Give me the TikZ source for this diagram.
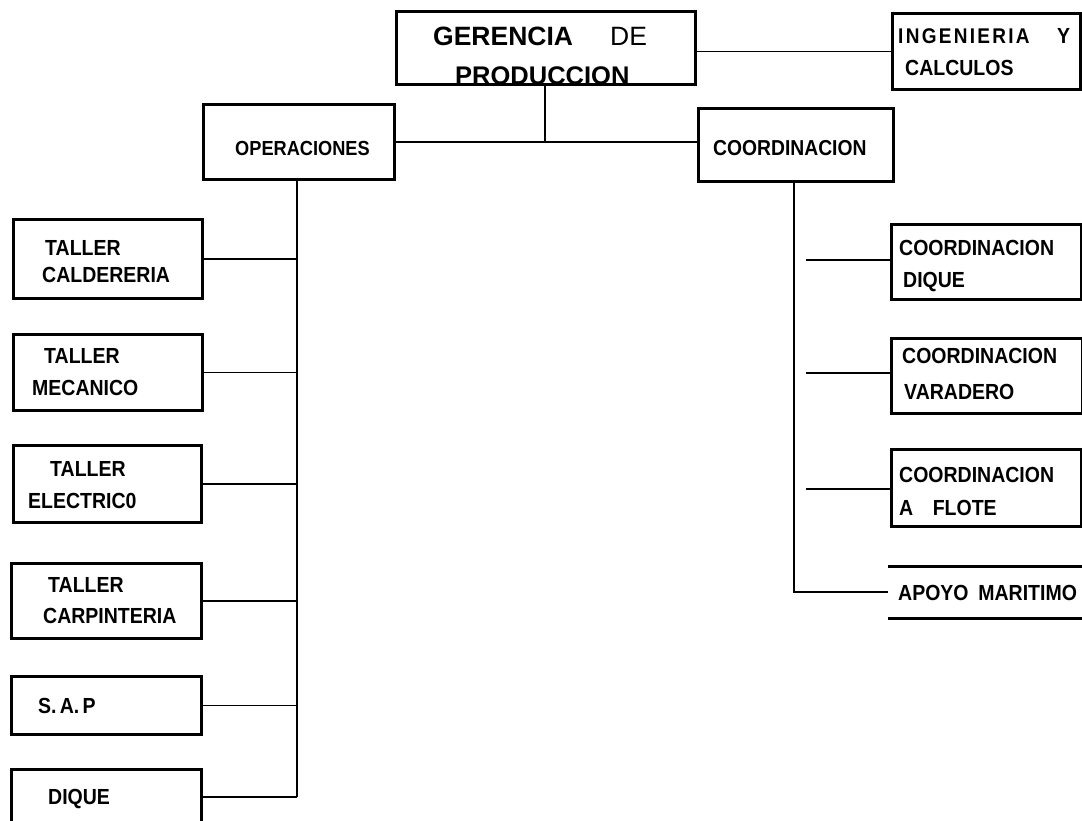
\documentclass[tikz,border=0pt]{standalone}
\usepackage{fontspec}
\setmainfont{Liberation Sans}
\newfontfamily\spfont[LetterSpace=12]{Liberation Sans}
\newcommand{\tallt}[1]{\scalebox{1}[1.12]{#1}}
\begin{document}
\begin{tikzpicture}[x=1pt,y=-1pt,
  box/.style={draw,line width=3pt,rectangle,inner sep=0pt,anchor=north west},
  conn/.style={line width=1.8pt},
  txt/.style={anchor=base west,inner sep=0pt,font=\fontsize{19.5}{21}\selectfont\bfseries},
  big/.style={anchor=base west,inner sep=0pt,font=\fontsize{26.5}{28}\selectfont}]
\useasboundingbox (0,0) rectangle (1082,820);
% boxes
\node[box,minimum width=299pt,minimum height=73pt] (ger) at (395,10) {};
\node[box,minimum width=188pt,minimum height=76pt] (ing) at (891,12) {};
\node[box,minimum width=191pt,minimum height=75pt] (ope) at (202,103) {};
\node[box,minimum width=195pt,minimum height=73pt] (coo) at (697,107) {};
\node[box,minimum width=189pt,minimum height=79pt] (cal) at (12,218) {};
\node[box,minimum width=189pt,minimum height=76pt] (mec) at (12,333) {};
\node[box,minimum width=188pt,minimum height=77pt] (ele) at (12,444) {};
\node[box,minimum width=190pt,minimum height=75pt] (car) at (10,562) {};
\node[box,minimum width=190pt,minimum height=58pt] (sap) at (10,675) {};
\node[box,minimum width=190pt,minimum height=70pt] (diq) at (10,768) {};
\node[box,minimum width=190pt,minimum height=75pt] (cdq) at (890,223) {};
\node[box,minimum width=191pt,minimum height=75pt] (cva) at (890,337) {};
\node[box,minimum width=190pt,minimum height=77pt] (cfl) at (890,448) {};
\node[rectangle,inner sep=0pt,minimum width=196pt,minimum height=52pt,anchor=north west] (apo) at (888,566) {};
\draw[line width=3pt] (apo.north west) -- (apo.north east);
\draw[line width=3pt] (apo.south west) -- (apo.south east);
% texts
\node[big,font=\fontsize{26.5}{28}\selectfont\bfseries] (t1) at (433,45) {GERENCIA};
\node[big] (t2) at (610,45) {DE};
\node[big,font=\fontsize{25.5}{28}\selectfont\bfseries] (t3) at (455,84) {PRODUCCION};
\node[txt,font=\fontsize{19}{21}\selectfont\bfseries\spfont] (t4) at (898,43) {\tallt{INGENIERIA}};
\node[txt] (t5) at (1057,43) {\tallt{Y}};
\node[txt] (t6) at (905,75) {\tallt{CALCULOS}};
\node[txt,font=\fontsize{18.2}{20}\selectfont\bfseries] (t7) at (235,155) {\tallt{OPERACIONES}};
\node[txt,font=\fontsize{19.3}{20}\selectfont\bfseries] (t8) at (713,155) {\tallt{COORDINACION}};
\node[txt] (t9) at (45,255) {\tallt{TALLER}};
\node[txt] (t10) at (42,282) {\tallt{CALDERERIA}};
\node[txt] (t11) at (44,363) {\tallt{TALLER}};
\node[txt] (t12) at (32,395) {\tallt{MECANICO}};
\node[txt] (t13) at (50,476) {\tallt{TALLER}};
\node[txt] (t14) at (28,508) {\tallt{ELECTRIC0}};
\node[txt] (t15) at (48,592) {\tallt{TALLER}};
\node[txt] (t16) at (43,623) {\tallt{CARPINTERIA}};
\node[txt] (t17) at (38,713) {\tallt{S.\,A.\,P}};
\node[txt] (t18) at (48,804) {\tallt{DIQUE}};
\node[txt] (t19) at (899,255) {\tallt{COORDINACION}};
\node[txt] (t20) at (903,287) {\tallt{DIQUE}};
\node[txt] (t21) at (902,363) {\tallt{COORDINACION}};
\node[txt] (t22) at (904,399) {\tallt{VARADERO}};
\node[txt] (t23) at (899,482) {\tallt{COORDINACION}};
\node[txt] (t24) at (899,515) {\tallt{A\quad FLOTE}};
\node[txt] (t25) at (898,600) {\tallt{APOYO\enspace MARITIMO}};
% connectors
\coordinate (jtop) at (545,142);
\coordinate (opbot) at (297,797);
\coordinate (cobot) at (794,592);
\draw[conn] (ger.east |- ing.west) -- (ing.west);
\draw[conn] (ger.south -| jtop) -- (jtop);
\draw[conn] (ope.east |- jtop) -- (coo.west |- jtop);
\draw[conn] (ope.south -| opbot) -- (opbot);
\foreach \b in {cal,mec,ele,car,sap}{
  \draw[conn] (\b.east) -- (\b.east -| opbot);
}
\draw[conn] (diq.east |- opbot) -- (opbot);
\draw[conn] (coo.south -| cobot) -- (cobot) -- (apo.west |- cobot);
\foreach \b/\y in {cdq/260,cva/373,cfl/489}{
  \coordinate (s\b) at (806,\y);
  \draw[conn] (s\b) -- (\b.west |- s\b);
}
\end{tikzpicture}
\end{document}
